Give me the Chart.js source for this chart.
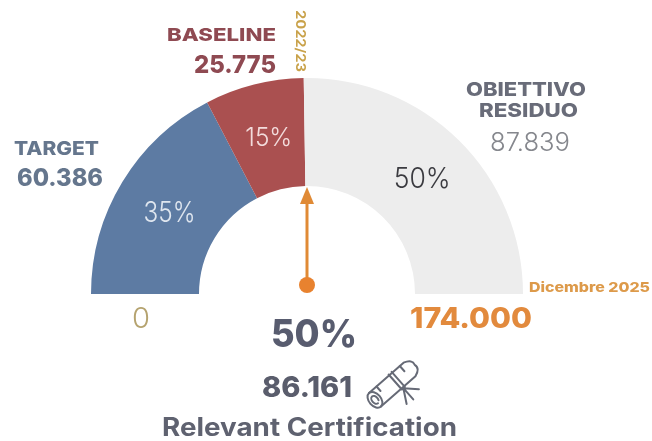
<!DOCTYPE html>
<html>
<head>
<meta charset="utf-8">
<style>
  html, body { margin: 0; padding: 0; background: #fff; }
  #wrap { width: 652px; height: 441px; position: relative; }
</style>
<script src="https://cdn.jsdelivr.net/npm/chart.js@4"></script>
</head>
<body>
<div id="wrap"><canvas id="gauge"></canvas></div>
<script>
// values
const categories = ['Target', 'Baseline', 'Obiettivo residuo'];
const values = [60386, 25775, 87839];
const shares = ['35%', '15%', '50%'];
const sliceColors = ['#5d7ba3', '#aa5050', '#ededed'];

const FONT = 'Inter, "Open Sans", sans-serif';

// x is the left edge, w the width the text should fill (the original font is wider than Inter)
function txt(c, s, x, y, size, weight, color, w) {
    c.save();
    c.font = weight + ' ' + size + 'px ' + FONT;
    c.fillStyle = color;
    c.textAlign = 'left';
    c.textBaseline = 'alphabetic';
    c.translate(x, y);
    c.scale(w / c.measureText(s).width, 1);
    c.fillText(s, 0, 0);
    c.restore();
}

// little rolled diploma next to 86.161
function scroll(c, x, y) {
    c.save();
    c.translate(x, y);
    c.rotate(-Math.PI * 0.23);
    c.strokeStyle = '#666a76';
    c.lineWidth = 2;
    c.lineCap = 'round';
    c.lineJoin = 'round';
    c.beginPath();
    // body of the roll
    c.moveTo(-24, -9);
    c.lineTo(22, -9);
    c.quadraticCurveTo(31, -6, 29, 0);
    c.quadraticCurveTo(31, 6, 22, 9);
    c.lineTo(-24, 9);
    c.stroke();
    // spiral at the open end
    c.beginPath();
    c.ellipse(-24, 0, 6, 9, 0, Math.PI * 0.5, Math.PI * 2.5);
    c.stroke();
    c.beginPath();
    c.ellipse(-24, 0, 3, 4.5, 0, Math.PI * 0.5, Math.PI * 2.2);
    c.stroke();
    // ribbon and its tails
    c.beginPath();
    c.moveTo(3, -10);
    c.lineTo(3, 10);
    c.moveTo(7, -10);
    c.lineTo(7, 10);
    c.moveTo(5, 10);
    c.lineTo(-3, 24);
    c.moveTo(5, 10);
    c.lineTo(5, 25);
    c.moveTo(5, 10);
    c.lineTo(16, 21);
    // fold lines
    c.moveTo(-14, -9);
    c.lineTo(-14, -3);
    c.moveTo(17, -9);
    c.lineTo(17, -2);
    c.stroke();
    c.restore();
}

const gaugeText = {
    id: 'gaugeText',
    afterDraw(chart) {
        const c = chart.ctx;
        const arc = chart.getDatasetMeta(0).data[0];
        const cx = arc.x, cy = arc.y;

        // percentages inside the slices
        const colors = ['#dfe6ef', '#f3dcdc', '#3b3b40'];
        const sizes = [28, 26, 28];
        const widths = [52, 47, 57];
        const shift = [[1, 12], [1.5, 9], [1.5, 9]];
        chart.getDatasetMeta(0).data.forEach((a, i) => {
            const p = a.tooltipPosition();
            txt(c, shares[i], p.x + shift[i][0] - widths[i] / 2, p.y + shift[i][1], sizes[i], 300, colors[i], widths[i]);
        });

        // arrow from the hub up to the inner edge
        c.strokeStyle = '#e08a35';
        c.fillStyle = '#e08a35';
        c.lineWidth = 3;
        c.beginPath();
        c.moveTo(cx, cy - 9);
        c.lineTo(cx, cy - 95);
        c.stroke();
        c.beginPath();
        c.moveTo(cx, cy - 107);
        c.lineTo(cx + 7, cy - 90);
        c.lineTo(cx - 7, cy - 90);
        c.closePath();
        c.fill();
        c.fillStyle = '#e8822f';
        c.beginPath();
        c.arc(cx, cy - 9, 8, 0, Math.PI * 2);
        c.fill();

        // labels round the gauge
        txt(c, 'BASELINE', 167, 41, 18, 800, '#8f4a52', 109);
        txt(c, '25.775', 194, 73, 25, 800, '#8f4a52', 82);
        txt(c, 'TARGET', 14, 155, 19, 800, '#65768d', 85);
        txt(c, '60.386', 17, 186, 24, 800, '#65768d', 86);
        txt(c, 'OBIETTIVO', 466, 96, 19, 800, '#696c79', 120);
        txt(c, 'RESIDUO', 479, 117, 19, 800, '#696c79', 99);
        txt(c, '87.839', 490, 151, 25, 300, '#85878d', 80);
        txt(c, 'Dicembre 2025', 529, 292, 13.5, 800, '#dd9a4a', 121);
        txt(c, '0', 132, 328, 29, 300, '#b5a36f', 18);
        txt(c, '174.000', 410, 328, 29, 800, '#e28a3d', 122);
        txt(c, '50%', 271, 347, 38, 800, '#585c6f', 86);
        txt(c, '86.161', 262, 397, 28, 800, '#5a5d6c', 90);
        txt(c, 'Relevant Certification', 162, 436, 25, 700, '#5f6270', 295);
        scroll(c, 393, 384);

        // vertical period label on top of the boundary
        c.save();
        c.translate(296, 10);
        c.rotate(Math.PI / 2);
        txt(c, '2022/23', 0, 0, 13, 700, '#c9a24a', 62);
        c.restore();
    }
};

new Chart(document.getElementById('gauge').getContext('2d'), {
    type: 'doughnut',
    data: {
        labels: categories,
        datasets: [{
            data: values,
            backgroundColor: sliceColors,
            borderWidth: 0
        }]
    },
    options: {
        responsive: true,
        maintainAspectRatio: false,
        animation: false,
        rotation: -90,
        circumference: 180,
        cutout: '50%',
        layout: { padding: { left: 91, right: 129, top: 78, bottom: 147 } },
        plugins: { legend: { display: false }, tooltip: { enabled: false } }
    },
    plugins: [gaugeText]
});
</script>
</body>
</html>
